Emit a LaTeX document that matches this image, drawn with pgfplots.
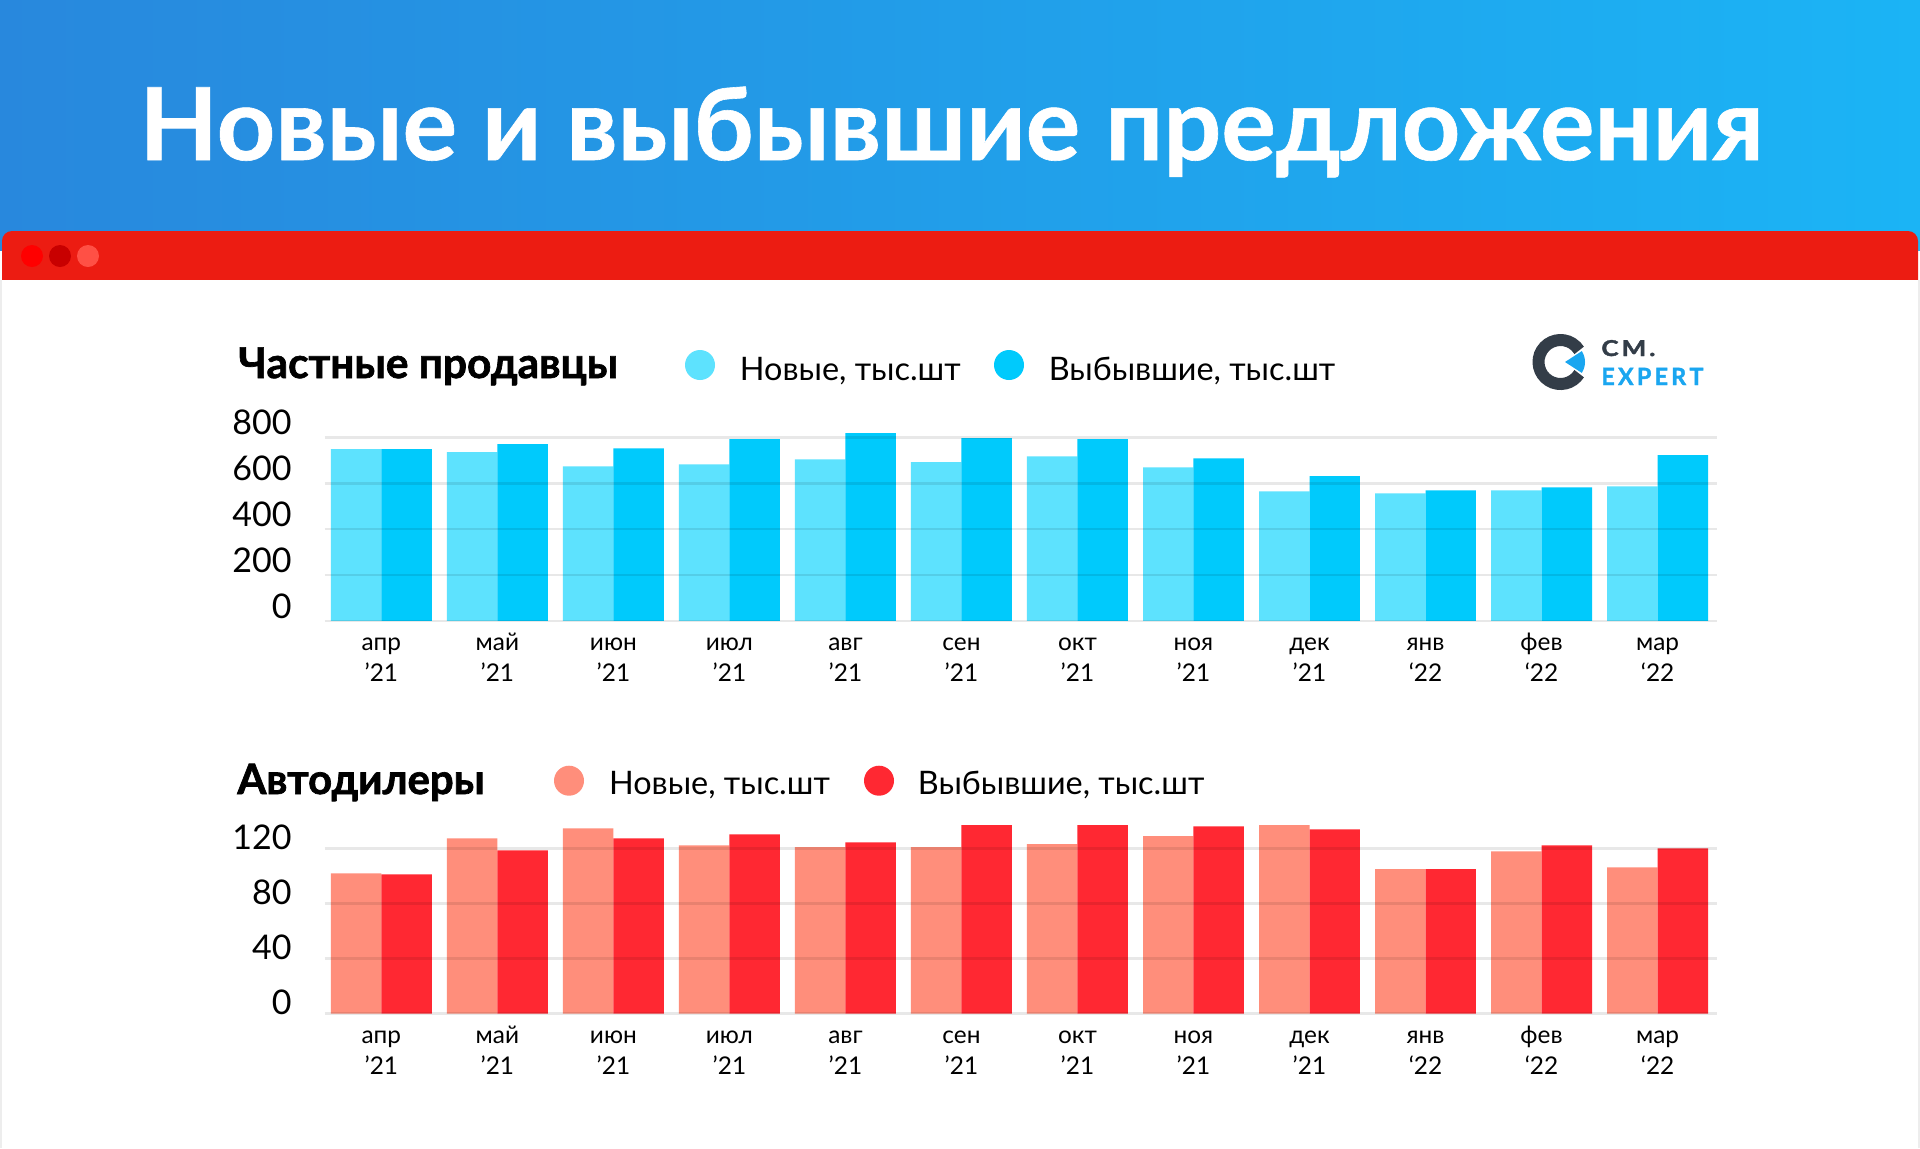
\documentclass[border=0pt]{standalone}
\usepackage{graphicx}
\usepackage{pgfplots}
\pgfplotsset{compat=1.18}
\usepackage{fontspec}
\setmainfont{Lato}
\definecolor{hdrL}{HTML}{2888DD}
\definecolor{hdrR}{HTML}{1BB4F5}
\definecolor{barred}{HTML}{EC1C12}
\definecolor{dotA}{HTML}{FF0000}
\definecolor{dotB}{HTML}{C80000}
\definecolor{dotC}{HTML}{FF5045}
\definecolor{cyanL}{HTML}{5DE2FE}
\definecolor{cyanD}{HTML}{00CAFC}
\definecolor{redL}{HTML}{FF8E7B}
\definecolor{redD}{HTML}{FF2832}
\definecolor{logoD}{HTML}{333D48}
\definecolor{logoB}{HTML}{1AA6F0}
\newcommand{\ml}[2]{\strut #1\\\strut #2}
\newcommand{\heavy}{\bfseries\addfontfeature{FakeBold=1.6}}
\pgfplotsset{
  chartbase/.style={
    scale only axis, width=696.1pt, height=96.25pt,
    xmin=-0.49, xmax=11.51, ymin=0,
    axis line style={draw=none}, major tick length=0pt,
    xtick={0,...,11},
    xticklabels={{\ml{апр}{’21}},{\ml{май}{’21}},{\ml{июн}{’21}},{\ml{июл}{’21}},{\ml{авг}{’21}},{\ml{сен}{’21}},{\ml{окт}{’21}},{\ml{ноя}{’21}},{\ml{дек}{’21}},{\ml{янв}{‘22}},{\ml{фев}{‘22}},{\ml{мар}{‘22}}},
    xticklabel style={align=center, font=\fontsize{12.2}{15.5}\selectfont, inner sep=0pt, anchor=north, yshift=-3.65pt, text=black},
    yticklabel style={font=\fontsize{17}{20}\selectfont, inner sep=0pt, anchor=east, xshift=-16.25pt, text=black},
    ymajorgrids, major grid style={black, opacity=0.09, line width=1.2pt},
    axis on top, clip=false,
    /pgf/number format/assume math mode=true,
    /pgf/number format/1000 sep={},
  }
}
\begin{document}
\begin{tikzpicture}
\begin{scope}[x=0.5pt,y=-0.5pt]
  \path[use as bounding box] (0,0) rectangle (1920,1148);
  \shade[left color=hdrL, right color=hdrR] (0,0) rectangle (1920,250);
  \fill[barred, rounded corners=5pt] (2,310) -- (2,231) -- (1918,231) -- (1918,310) -- cycle;
  \fill[white] (0,280) rectangle (1920,1148);
  \draw[black!7, line width=1pt] (1,280) -- (1,1148);
  \draw[black!7, line width=1pt] (1919,280) -- (1919,1148);
  \fill[dotA] (32,256) circle[radius=11];
  \fill[dotB] (60,256) circle[radius=11];
  \fill[dotC] (88,256) circle[radius=11];
  % title
  \node[anchor=base west, inner sep=0pt, text=white] at (139,160)
    {\resizebox{812pt}{36.7pt}{\bfseries\addfontfeature{FakeBold=0.6}Новые и выбывшие предложения}};
  % logo
  \draw[logoD, line width=6pt] (1560.5,362) ++(32:22) arc[start angle=32, end angle=328, radius=22];
  \fill[logoB] (1565,362) -- ++(-33:20) arc[start angle=-33, end angle=33, radius=20] -- cycle;
  \node[anchor=base west, inner sep=0pt, text=logoD] at (1601,356)
    {\resizebox{27pt}{8pt}{\heavy C\kern.12em M\kern.12em .}};
  \node[anchor=base west, inner sep=0pt, text=logoB] at (1601,385)
    {\resizebox{51pt}{8.6pt}{\heavy E\kern.14em X\kern.14em P\kern.14em E\kern.14em R\kern.14em T}};
  % top section header and legend
  \node[anchor=base west, inner sep=0pt] at (238,378)
    {\resizebox{189.8pt}{!}{\fontsize{19}{22}\selectfont\heavy Частные продавцы}};
  \fill[cyanL] (700,365) circle[radius=15];
  \node[anchor=base west, inner sep=0pt, font=\fontsize{16.2}{19}\selectfont] at (739.5,380) {Новые, тыс.шт};
  \fill[cyanD] (1009,365) circle[radius=15];
  \node[anchor=base west, inner sep=0pt, font=\fontsize{16.2}{19}\selectfont] at (1048.4,380) {Выбывшие, тыс.шт};
  % bottom section header and legend
  \node[anchor=base west, inner sep=0pt] at (237,794)
    {\resizebox{123.6pt}{!}{\fontsize{19}{22}\selectfont\heavy Автодилеры}};
  \fill[redL] (569,780.7) circle[radius=15];
  \node[anchor=base west, inner sep=0pt, font=\fontsize{16.2}{19}\selectfont] at (608.7,794) {Новые, тыс.шт};
  \fill[redD] (879,780.7) circle[radius=15];
  \node[anchor=base west, inner sep=0pt, font=\fontsize{16.2}{19}\selectfont] at (917.5,794) {Выбывшие, тыс.шт};
\end{scope}

\begin{axis}[chartbase, at={(162.25pt,-310.4pt)}, anchor=south west,
  ymax=840, ytick={0,200,400,600,800}, yticklabel style={yshift=7.5pt}]
  \addplot[ybar, bar width=0.435, bar shift=-0.2175, fill=cyanL, draw=none] coordinates
    {(0,749) (1,736) (2,674) (3,683) (4,705) (5,692) (6,718) (7,670) (8,565) (9,556) (10,569) (11,587)};
  \addplot[ybar, bar width=0.435, bar shift=0.2175, fill=cyanD, draw=none] coordinates
    {(0,749) (1,771) (2,753) (3,793) (4,819) (5,797) (6,793) (7,709) (8,631) (9,569) (10,582) (11,723)};
\end{axis}

\begin{axis}[chartbase, at={(162.25pt,-506.8pt)}, anchor=south west,
  ymax=140, ytick={0,40,80,120}, yticklabel style={yshift=5.5pt}]
  \addplot[ybar, bar width=0.435, bar shift=-0.2175, fill=redL, draw=none] coordinates
    {(0,102) (1,127.5) (2,134.8) (3,122.4) (4,121) (5,121) (6,123.2) (7,129) (8,137) (9,105) (10,118) (11,106.4)};
  \addplot[ybar, bar width=0.435, bar shift=0.2175, fill=redD, draw=none] coordinates
    {(0,101.3) (1,118.8) (2,127.5) (3,130.4) (4,124.6) (5,137) (6,137) (7,136.2) (8,134) (9,105) (10,122.4) (11,120.2)};
\end{axis}
\end{tikzpicture}
\end{document}
